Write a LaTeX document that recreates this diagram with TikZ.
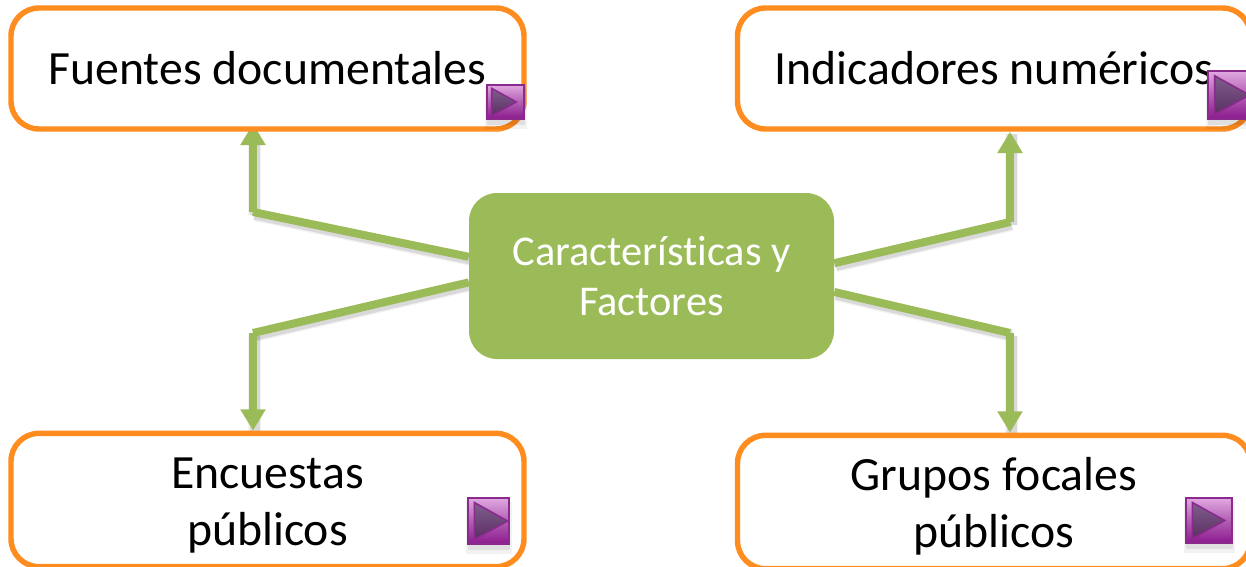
\documentclass[tikz,border=0pt]{standalone}
\usepackage{fontspec}
\setmainfont[Ligatures=CommonOff]{Carlito}
\usetikzlibrary{arrows.meta,calc}
\pgfdeclarelayer{links}
\pgfsetlayers{links,main}
\definecolor{boxorange}{HTML}{FF8C1E}
\definecolor{leafgreen}{HTML}{9BBB59}
\definecolor{btnline}{HTML}{8A2A8C}
\definecolor{btntop}{HTML}{E0A8E0}
\definecolor{btnmid}{HTML}{B25FB4}
\definecolor{btnbot}{HTML}{8C1A8E}
\definecolor{tritop}{HTML}{7E5E8C}
\definecolor{tribot}{HTML}{5A2F62}
\tikzset{
  x=0.75pt,y=-0.75pt,
  leaf/.style={draw=boxorange,line width=4.1pt,fill=white,rounded corners=21pt,
    minimum width=384.75pt,align=center,font=\fontsize{35.8}{43}\selectfont,inner sep=0pt},
  hub/.style={fill=leafgreen,rounded corners=21pt,minimum width=273.75pt,minimum height=124.5pt,
    align=center,text=white,font=\fontsize{31.8}{37.5}\selectfont,inner sep=0pt},
  link/.style={draw=leafgreen,line width=6pt},
  linkarrow/.style={link,-{Triangle[width=18pt,length=16pt]}},
  shade1/.style={line width=9.5pt,draw=black,opacity=.05,transform canvas={xshift=1.2pt,yshift=-2pt}},
  shade2/.style={line width=7.5pt,draw=black,opacity=.10,transform canvas={xshift=1.2pt,yshift=-2pt}},
  btn/.style={draw=btnline,line width=1.2pt,top color=btntop,bottom color=btnbot,middle color=btnmid,inner sep=0pt},
  tri/.style={draw=btnline,line width=1.2pt,top color=tritop,bottom color=tribot},
}
% #1 name, #2 left, #3 top, #4 width, #5 height
\newcommand{\playbtn}[5]{%
  \fill[black,opacity=.05] (#2-2,#3+4) rectangle (#2+#4+3,#3+#5+10);
  \fill[black,opacity=.08] (#2,#3+3) rectangle (#2+#4+1,#3+#5+6);
  \node[btn,minimum width=#4*0.75pt,minimum height=#5*0.75pt] (#1) at (#2+#4/2,#3+#5/2) {};
  \draw[tri] (#2+0.14*#5,#3+0.10*#5) -- (#2+0.86*#5,#3+0.5*#5) -- (#2+0.14*#5,#3+0.90*#5) -- cycle;
}
\begin{document}
\begin{tikzpicture}
\useasboundingbox (0,0) rectangle (1246,567);
\clip (0,0) rectangle (1246,567);
\node[leaf,minimum height=90.75pt] (fuentes) at (267.5,68.5) {\raisebox{-1pt}{Fuentes documentales}};
\node[leaf,minimum height=90.75pt] (indic) at (994,68.5) {\raisebox{-1pt}{Indicadores numéricos}};
\node[leaf,minimum height=100pt] (encuestas) at (267.5,500) {\rule{0pt}{31pt}Encuestas\\públicos};
\node[leaf,minimum height=100pt] (grupos) at (994,502) {\rule{0pt}{31pt}Grupos focales\\públicos};
\coordinate (elbowa) at (253,212);
\coordinate (elbowb) at (1010,222);
\coordinate (elbowc) at (253,333);
\coordinate (elbowd) at (1010,333);
\node[hub] (hub) at (651.5,276) {Características y\\Factores};
\begin{pgfonlayer}{links}
\foreach \sh in {shade1,shade2}{
  \draw[\sh] (hub.174.4) -- (elbowa);
  \draw[\sh] (elbowa) -- (elbowa |- fuentes.south);
  \draw[\sh] (hub.4.4) -- (elbowb);
  \draw[\sh] (elbowb) -- (elbowb |- indic.south);
  \draw[\sh] (hub.182.2) -- (elbowc);
  \draw[\sh] (elbowc) -- (elbowc |- encuestas.north);
  \draw[\sh] (hub.-5.3) -- (elbowd);
  \draw[\sh] (elbowd) -- (elbowd |- grupos.north);
}
\draw[link] (hub.174.4) -- (elbowa);
\draw[linkarrow,shorten >=-6pt] (elbowa) -- (elbowa |- fuentes.south);
\draw[link] (hub.4.4) -- (elbowb);
\draw[linkarrow] (elbowb) -- (elbowb |- indic.south);
\draw[link] (hub.182.2) -- (elbowc);
\draw[linkarrow] (elbowc) -- (elbowc |- encuestas.north);
\draw[link] (hub.-5.3) -- (elbowd);
\draw[linkarrow] (elbowd) -- (elbowd |- grupos.north);
\end{pgfonlayer}
\playbtn{btna}{487}{85}{37}{34}
\playbtn{btnb}{1208}{71}{47}{48}
\playbtn{btnc}{468}{498}{41}{46}
\playbtn{btnd}{1186}{498}{46}{45}
\end{tikzpicture}
\end{document}
